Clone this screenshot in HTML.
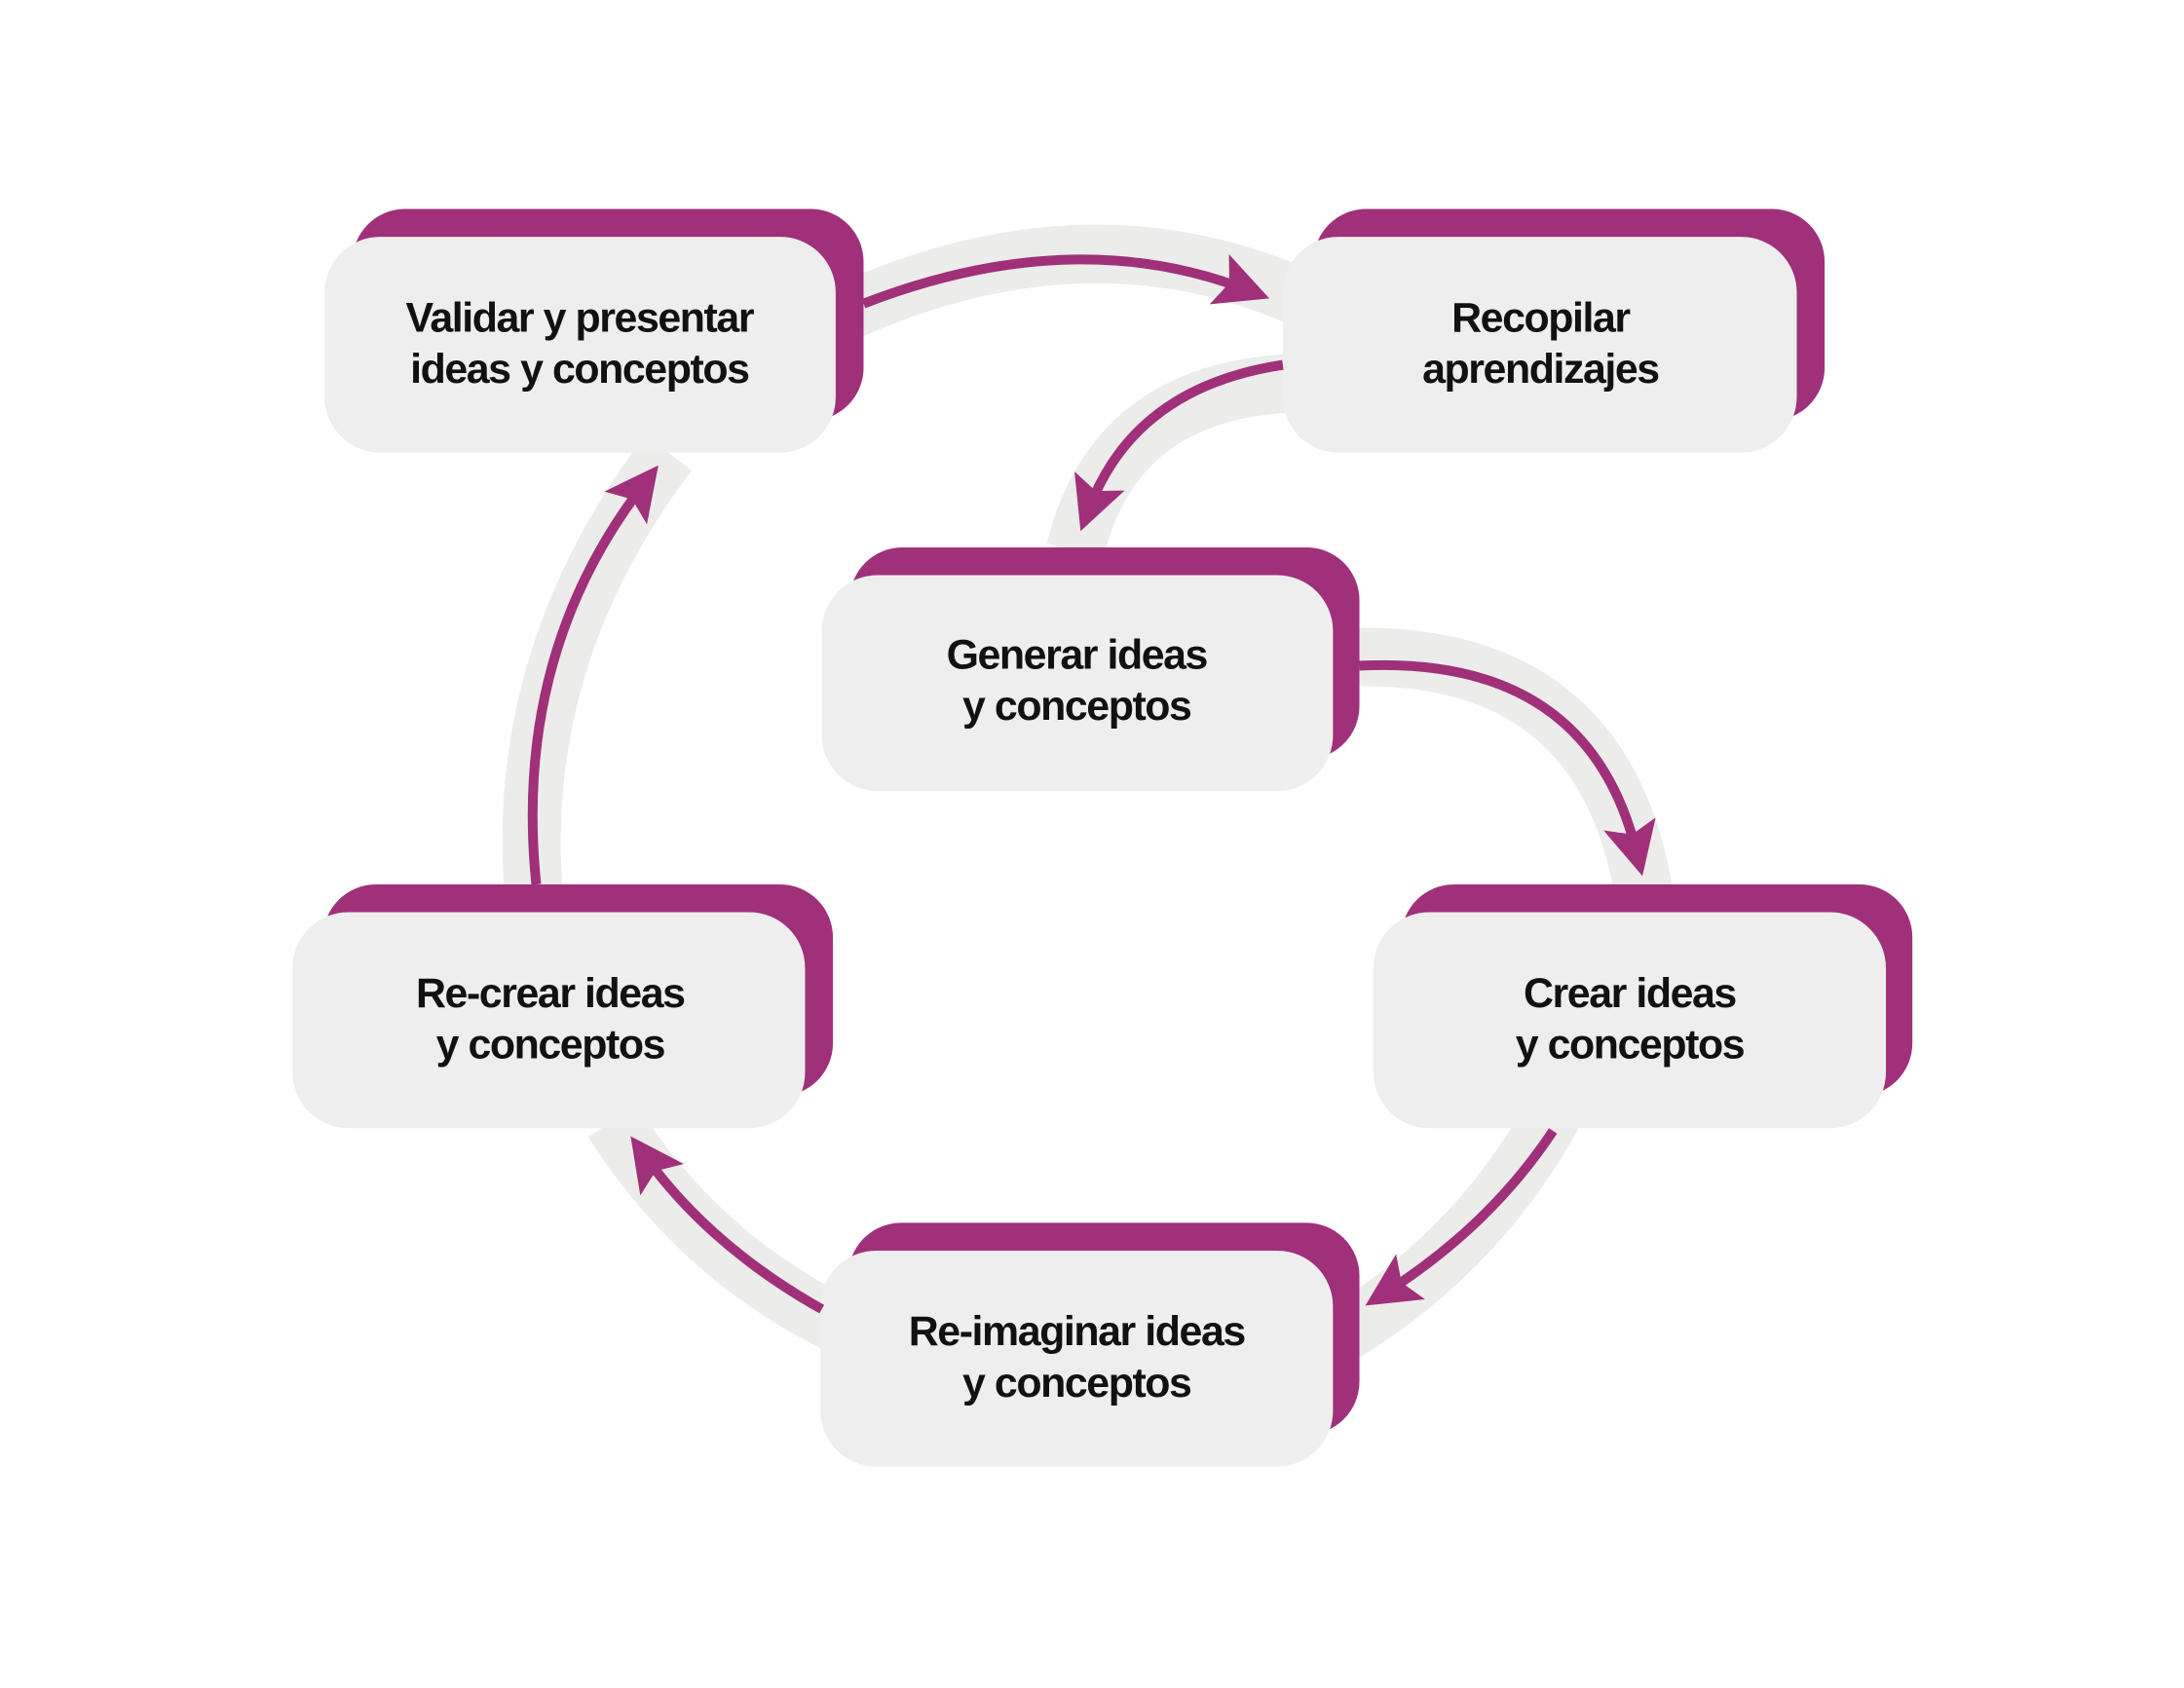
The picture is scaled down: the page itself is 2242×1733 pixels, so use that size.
<!DOCTYPE html>
<html><head><meta charset="utf-8"><style>
html,body{margin:0;padding:0;background:#fff;}
svg{display:block;}
text{font-family:"Liberation Sans",sans-serif;font-weight:bold;font-size:30px;fill:#111;text-anchor:middle;letter-spacing:-1px;}
</style></head><body>
<svg width="2242" height="1733" viewBox="0 0 1568 1212" xmlns="http://www.w3.org/2000/svg">
<defs>
<marker id="ah" markerWidth="5.5" markerHeight="5.5" refX="3" refY="2.75" orient="auto" markerUnits="strokeWidth">
<path d="M0,0 L5.5,2.75 L0,5.5 L1.1,2.75 Z" fill="#a0307a"/>
</marker>
</defs>
<g fill="none" stroke="#ececea" stroke-width="42">
<path d="M612,222 Q780,148 930,212"/>
<path d="M930,275 Q800,280 772,395"/>
<path d="M965,472 Q1150,465 1180,640"/>
<path d="M1115,800 Q1060,900 960,960"/>
<path d="M600,950 Q500,900 440,805"/>
<path d="M383,640 Q370,470 480,325"/>
</g>
<g fill="#a0307a">
<rect x="253" y="150" width="367" height="152" rx="38"/>
<rect x="943" y="150" width="367" height="152" rx="38"/>
<rect x="610" y="393" width="366" height="152" rx="38"/>
<rect x="232" y="635" width="366" height="152" rx="38"/>
<rect x="1006" y="635" width="367" height="152" rx="38"/>
<rect x="609" y="878" width="367" height="152" rx="38"/>
</g>
<g fill="#eeeeee">
<rect x="233" y="170" width="367" height="155" rx="40"/>
<rect x="921" y="170" width="369" height="155" rx="40"/>
<rect x="590" y="413" width="367" height="155" rx="40"/>
<rect x="210" y="655" width="368" height="155" rx="40"/>
<rect x="986" y="655" width="368" height="155" rx="40"/>
<rect x="589" y="898" width="368" height="155" rx="40"/>
</g>
<g fill="none" stroke="#a0307a" stroke-width="7" marker-end="url(#ah)">
<path d="M620,218 Q770,160 895,208"/>
<path d="M921,262 Q815,278 782,365"/>
<path d="M976,478 Q1140,470 1175,612"/>
<path d="M1115,812 Q1070,880 995,928"/>
<path d="M590,940 Q510,895 463,830"/>
<path d="M385,635 Q368,470 462,348"/>
</g>
<text x="416" y="238">Validar y presentar</text>
<text x="416" y="275">ideas y conceptos</text>
<text x="1106" y="238">Recopilar</text>
<text x="1106" y="275">aprendizajes</text>
<text x="773" y="480">Generar ideas</text>
<text x="773" y="517">y conceptos</text>
<text x="395" y="723">Re-crear ideas</text>
<text x="395" y="760">y conceptos</text>
<text x="1170" y="723">Crear ideas</text>
<text x="1170" y="760">y conceptos</text>
<text x="773" y="966">Re-imaginar ideas</text>
<text x="773" y="1003">y conceptos</text>
</svg>
</body></html>
